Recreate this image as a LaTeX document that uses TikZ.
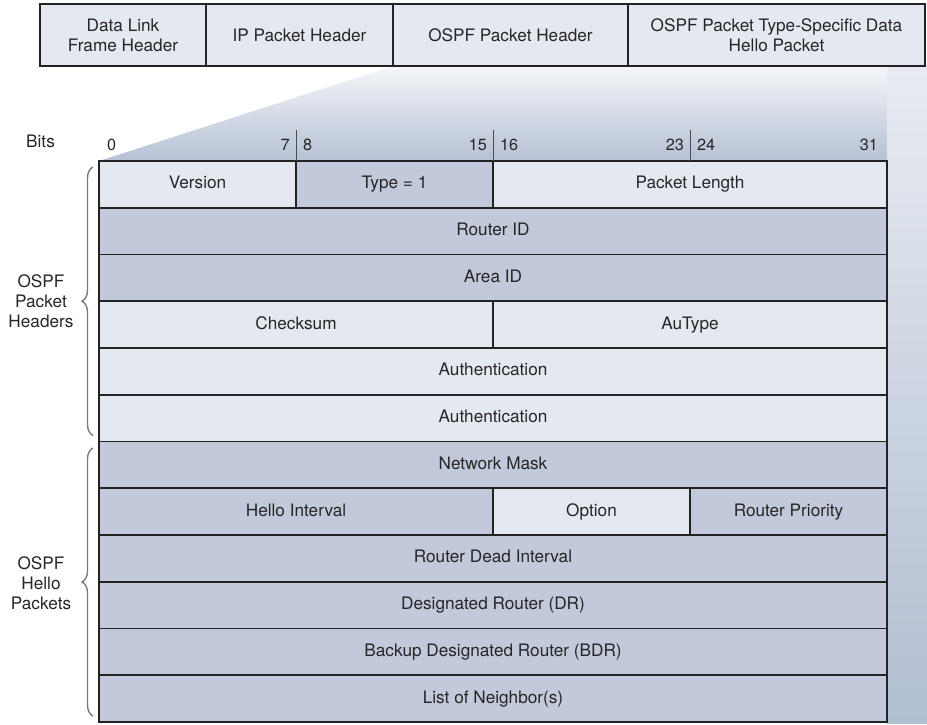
\documentclass[tikz,border=0pt]{standalone}
\usepackage{fontspec}
\setmainfont{TeX Gyre Heros}
\usetikzlibrary{positioning,decorations.pathreplacing,backgrounds}
\definecolor{cellpale}{HTML}{E4E8F0}
\definecolor{celldark}{HTML}{C1C9DA}
\definecolor{inkgray}{HTML}{262626}
\definecolor{edgegray}{HTML}{222222}
\definecolor{bracegray}{HTML}{7C7C7C}
\definecolor{fadetop}{HTML}{F4F6F9}
\definecolor{fadebot}{HTML}{B6C1D4}
\definecolor{sidetop}{HTML}{E8ECF2}
\definecolor{sidebot}{HTML}{B1BDD1}

\begin{document}
\begin{tikzpicture}[x=1pt, y=-1pt,
    every node/.style={font=\fontsize{17.2}{20}\selectfont, text=inkgray},
    field/.style={draw=edgegray, line width=1.8pt, outer sep=0pt, inner sep=0pt, minimum height=46.75pt, text height=12.4pt, text depth=3.4pt},
    pale/.style={field, fill=cellpale},
    dark/.style={field, fill=celldark},
    word/.style={minimum width=788pt},
    half/.style={minimum width=394pt},
    byte/.style={minimum width=197pt},
    hdr/.style={draw=edgegray, line width=1.8pt, fill=cellpale, outer sep=0pt, inner sep=0pt, minimum height=62pt, align=center},
    bit/.style={inner sep=0pt, font=\fontsize{16.2}{19}\selectfont},
    tick/.style={edgegray!80, line width=1pt},
    grp/.style={decorate, decoration={brace, amplitude=11pt}, draw=bracegray, line width=1.4pt},
  ]
  \useasboundingbox (0,0) rectangle (927,725);

  % frame on top
  \node[hdr, minimum width=166pt, anchor=north west] (dlink) at (40,4) {Data Link\\Frame Header};
  \node[hdr, minimum width=187pt, right=0pt of dlink] (iphdr) {IP Packet Header};
  \node[hdr, minimum width=235pt, right=0pt of iphdr] (ospfhdr) {OSPF Packet Header};
  \node[hdr, minimum width=297pt, right=0pt of ospfhdr] (hellodata) {OSPF Packet Type-Specific Data\\Hello Packet};

  % packet fields
  \node[pale, byte, anchor=north west] (ver) at (99,161) {Version};
  \node[dark, byte, right=0pt of ver] (type) {Type = 1};
  \node[pale, half, right=0pt of type] (len) {Packet Length};
  \node[dark, word, below right=0pt of ver.south west] (rid) {Router ID};
  \node[dark, word, below=0pt of rid] (aid) {Area ID};
  \node[pale, half, below right=0pt of aid.south west] (csum) {Checksum};
  \node[pale, half, right=0pt of csum] (autype) {AuType};
  \node[pale, word, below right=0pt of csum.south west] (auth1) {Authentication};
  \node[pale, word, below=0pt of auth1] (auth2) {Authentication};
  \node[dark, word, below=0pt of auth2] (mask) {Network Mask};
  \node[dark, half, below right=0pt of mask.south west] (hello) {Hello Interval};
  \node[pale, byte, right=0pt of hello] (opt) {Option};
  \node[dark, byte, right=0pt of opt] (prio) {Router Priority};
  \node[dark, word, below right=0pt of hello.south west] (dead) {Router Dead Interval};
  \node[dark, word, below=0pt of dead] (dr) {Designated Router (DR)};
  \node[dark, word, below=0pt of dr] (bdr) {Backup Designated Router (BDR)};
  \node[dark, word, below=0pt of bdr] (nbr) {List of Neighbor(s)};

  % zoom wedge and side face
  \begin{scope}[on background layer]
    \shade[top color=fadetop, bottom color=fadebot]
      (ospfhdr.south west) -- (ospfhdr.south west -| len.north east) -- (len.north east) -- (ver.north west) -- cycle;
    \shade[top color=sidetop, bottom color=sidebot]
      (ospfhdr.south west -| len.north east) rectangle (927,723);
  \end{scope}

  % bit numbers
  \node[bit, anchor=base west, font=\fontsize{17.2}{20}\selectfont] (bitslbl) at (26,147) {Bits};
  \node[bit, anchor=base west] (b0) at (107,150) {0};
  \node[bit, anchor=base east] (b7) at (290,150) {7};
  \node[bit, anchor=base west] (b8) at (303,150) {8};
  \node[bit, anchor=base east] (b15) at (487,150) {15};
  \node[bit, anchor=base west] (b16) at (500,150) {16};
  \node[bit, anchor=base east] (b23) at (684,150) {23};
  \node[bit, anchor=base west] (b24) at (697,150) {24};
  \node[bit, anchor=base east] (b31) at (878,150) {31};
  \draw[tick] (ver.north east) -- ++(0,-31);
  \draw[tick] (type.north east) -- ++(0,-31);
  \draw[tick] (hello.north east -| opt.north east) ++(0,-327.25) -- ++(0,-31);

  % groups
  \node[align=center] (hdrlbl) at (41,301) {OSPF\\Packet\\Headers};
  \node[align=center] (hellolbl) at (41,583) {OSPF\\Hello\\Packets};
  \draw[grp] ([xshift=-6pt,yshift=6pt]auth2.south west) -- ([xshift=-6pt,yshift=-6pt]ver.north west);
  \draw[grp] ([xshift=-6pt,yshift=6pt]nbr.south west) -- ([xshift=-6pt,yshift=-6.5pt]mask.north west);
\end{tikzpicture}
\end{document}
